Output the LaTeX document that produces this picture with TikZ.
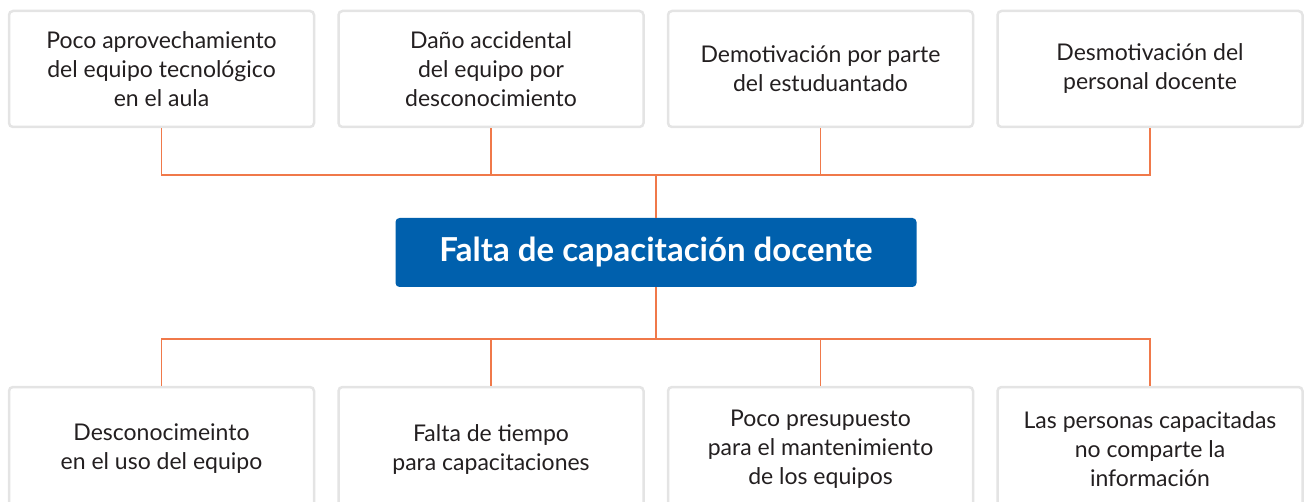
\documentclass[tikz,border=0pt]{standalone}
\usepackage{fontspec}
\setmainfont{Lato}
\usetikzlibrary{positioning}
\definecolor{linkc}{HTML}{F0794A}
\definecolor{probc}{HTML}{0060AD}
\definecolor{edgec}{HTML}{E4E4E4}
\definecolor{textc}{HTML}{231F20}
\begin{document}
\begin{tikzpicture}[x=1pt,y=1pt,
    leaf/.style={draw=edgec,line width=2.5pt,rounded corners=4pt,minimum width=305pt,minimum height=116pt,
      align=center,text=textc,inner sep=0pt,font=\fontsize{23}{29}\selectfont},
    prob/.style={fill=probc,rounded corners=4pt,minimum width=521pt,minimum height=69pt,
      text=white,font=\fontsize{33}{38}\selectfont\bfseries},
    link/.style={draw=linkc,line width=1.5pt}]
    \useasboundingbox (0,0) rectangle (1305,-502);
    \clip (0,0) rectangle (1305,-502);
    % causas
    \node[leaf] (c1) at (161.5,-69) {Poco aprovechamiento\\del equipo tecnológico\\en el aula};
    \node[leaf] (c2) at (491,-69) {Daño accidental\\del equipo por\\desconocimiento};
    \node[leaf] (c3) at (820.5,-69) {Demotivación por parte\\del estuduantado};
    \node[leaf] (c4) at (1150,-69) {Desmotivación del\\personal docente};
    % problema
    \node[prob] (p) at (656,-252.5) {Falta de capacitación docente};
    % efectos
    \node[leaf,minimum height=124pt] (e1) at (161.5,-449) {Desconocimeinto\\en el uso del equipo};
    \node[leaf,minimum height=124pt] (e2) at (491,-449) {Falta de tiempo\\para capacitaciones};
    \node[leaf,minimum height=124pt] (e3) at (820.5,-449) {Poco presupuesto\\para el mantenimiento\\de los equipos};
    \node[leaf,minimum height=124pt] (e4) at (1150,-449) {Las personas capacitadas\\no comparte la\\información};
    \coordinate (jt) at (656,-175);
    \coordinate (jb) at (656,-339);
    \draw[link] (p.north) -- (jt);
    \draw[link] (p.south) -- (jb);
    \foreach \i in {1,...,4} {
        \draw[link] (c\i.south) |- (jt);
        \draw[link] (e\i.north) |- (jb);
    }
\end{tikzpicture}
\end{document}
